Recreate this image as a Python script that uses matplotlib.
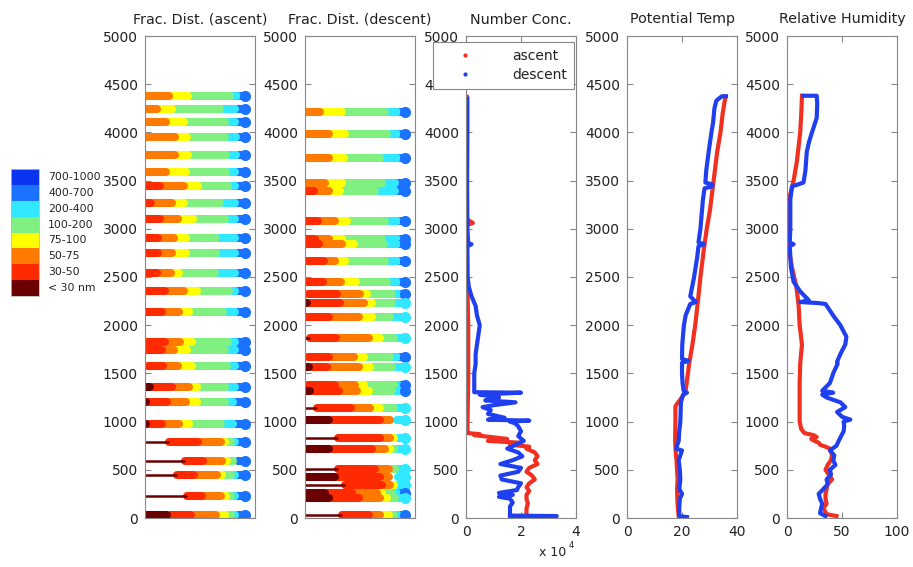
import numpy as np
import matplotlib
matplotlib.use('Agg')
import matplotlib.pyplot as plt
from matplotlib.lines import Line2D
from matplotlib.patches import Rectangle

# size bins (smallest first) and their colours
bins = ['< 30 nm', '30-50', '50-75', '75-100', '100-200', '200-400', '400-700', '700-1000']
bin_colors = ['#6a0000', '#ff2a00', '#ff7a00', '#ffff00', '#80f080', '#30e8ff', '#1a72ff', '#0a34f0']

# fractional distribution, ascent (altitude m, fraction per bin)
asc_alt = [4380, 4245, 4105, 3950, 3770, 3585, 3440, 3270, 3105, 2905, 2745, 2540, 2355,
           2135, 1830, 1740, 1580, 1360, 1200, 975, 790, 595, 450, 230, 30]
asc_frac = [
    [0, 0, .27, .19, .42, .07, .05, 0],
    [0, 0, .15, .15, .48, .15, .07, 0],
    [0, 0, .24, .18, .41, .10, .07, 0],
    [0, 0, .33, .12, .38, .11, .06, 0],
    [0, 0, .33, .13, .38, .10, .06, 0],
    [0, 0, .24, .20, .40, .09, .07, 0],
    [0, .18, .24, .14, .30, .07, .07, 0],
    [0, .09, .21, .12, .36, .15, .07, 0],
    [0, .18, .18, .15, .32, .10, .07, 0],
    [0, .16, .16, .12, .30, .19, .07, 0],
    [0, .16, .14, .14, .30, .19, .07, 0],
    [0, .15, .14, .08, .36, .20, .07, 0],
    [0, .23, .19, .13, .32, .06, .07, 0],
    [0, .20, .17, .10, .34, .12, .07, 0],
    [0, .23, .15, .12, .36, .07, .07, 0],
    [0, .20, .12, .13, .38, .10, .07, 0],
    [.03, .18, .15, .14, .35, .08, .07, 0],
    [.08, .22, .17, .08, .28, .10, .07, 0],
    [.04, .21, .19, .11, .28, .08, .09, 0],
    [.04, .16, .17, .10, .32, .12, .09, 0],
    [.24, .32, .23, .04, .06, .04, .07, 0],
    [.40, .21, .19, .05, .06, .02, .07, 0],
    [.32, .20, .23, .05, .09, .04, .07, 0],
    [.42, .18, .19, .05, .05, .04, .07, 0],
    [.25, .24, .25, .09, .06, .04, .07, 0],
]
# rows where the < 30 nm part is a full-height band (else a thin line)
asc_dr_full = [False] * 16 + [True, True, True, True, False, False, False, False, True]

# fractional distribution, descent
desc_alt = [4215, 3985, 3730, 3470, 3390, 3085, 2890, 2840, 2670, 2450, 2320, 2235, 2080,
            1865, 1665, 1570, 1380, 1315, 1140, 1015, 835, 715, 510, 430, 345, 255, 205, 30]
desc_frac = [
    [0, 0, .18, .22, .43, .12, .05, 0],
    [0, 0, .27, .16, .42, .10, .05, 0],
    [0, 0, .27, .15, .36, .17, .05, 0],
    [0, 0, .23, .17, .40, .13, .07, 0],
    [0, .12, .15, .11, .35, .20, .07, 0],
    [0, .16, .17, .12, .38, .12, .05, 0],
    [0, .13, .14, .13, .40, .15, .05, 0],
    [0, .17, .23, .12, .30, .13, .05, 0],
    [.02, .20, .11, .10, .40, .12, .05, 0],
    [0, .21, .18, .15, .31, .10, .05, 0],
    [.03, .32, .23, .07, .25, .06, .04, 0],
    [.05, .33, .24, .08, .20, .10, 0, 0],
    [0, .27, .30, .13, .18, .12, 0, 0],
    [.05, .29, .33, .11, .14, .08, 0, 0],
    [.03, .24, .25, .10, .26, .07, .05, 0],
    [.07, .18, .32, .11, .22, .10, 0, 0],
    [.03, .30, .20, .09, .30, .04, .04, 0],
    [.08, .29, .18, .12, .23, .07, .03, 0],
    [.12, .37, .19, .10, .14, .08, 0, 0],
    [.27, .51, .10, .02, .02, .08, 0, 0],
    [.33, .45, .10, .04, .01, .07, 0, 0],
    [.27, .43, .13, .05, .04, .08, 0, 0],
    [.33, .40, .14, .01, .05, .07, 0, 0],
    [.33, .45, .09, .03, .03, .07, 0, 0],
    [.40, .40, .08, .04, .01, .07, 0, 0],
    [.23, .27, .25, .05, .10, .05, .05, 0],
    [.27, .30, .21, .07, .08, .07, 0, 0],
    [.37, .30, .11, .09, .05, .04, .04, 0],
]
desc_dr_full = [True] * 12 + [True, False, True, True, True, True, False, True, False, True,
                               False, True, False, True, True, False]

# number concentration (x 10^4)
nc_asc_alt = [4370, 4200, 3800, 3400, 3100, 3060, 3040, 2800, 2500, 2300, 2000, 1700, 1400, 1100,
              920, 880, 870, 860, 840, 820, 800, 780, 760, 740, 720, 680, 640, 600, 560, 520,
              480, 440, 400, 360, 320, 280, 240, 200, 150, 100, 50, 10]
nc_asc = [0.03, 0.03, 0.02, 0.02, 0.03, 0.25, 0.03, 0.02, 0.03, 0.06, 0.08, 0.08, 0.08, 0.06,
          0.05, 0.08, 0.5, 0.3, 0.9, 1.5, 0.8, 2.0, 1.6, 2.3, 2.2, 2.5, 2.6, 2.5, 2.6, 2.3,
          2.2, 2.4, 2.5, 2.3, 2.2, 2.3, 2.2, 2.2, 2.25, 2.2, 2.2, 2.2]
nc_desc_alt = [4350, 4000, 3500, 3000, 2850, 2840, 2820, 2500, 2400, 2300, 2200, 2100, 2000, 1900,
               1800, 1700, 1600, 1500, 1400, 1320, 1305, 1300, 1280, 1250, 1220, 1200, 1170, 1150,
               1120, 1080, 1040, 1020, 1010, 1000, 980, 950, 900, 850, 800, 760, 720, 680, 640,
               600, 560, 520, 480, 440, 400, 360, 320, 290, 260, 240, 220, 200, 160, 120, 80, 40,
               25, 20, 15]
nc_desc = [0.05, 0.05, 0.04, 0.05, 0.08, 0.2, 0.05, 0.06, 0.1, 0.2, 0.35, 0.4, 0.5, 0.45,
           0.4, 0.35, 0.35, 0.3, 0.3, 0.3, 0.3, 2.0, 0.5, 1.2, 0.7, 1.8, 1.0, 0.6,
           0.9, 0.8, 1.4, 0.8, 2.3, 1.6, 1.8, 1.9, 2.0, 1.9, 2.1, 1.8, 1.5, 1.9, 2.05,
           1.7, 1.25, 2.0, 1.9, 1.25, 1.3, 2.0, 1.9, 1.85, 1.2, 1.7, 1.2, 1.6, 1.7, 1.6, 1.6, 1.6,
           1.6, 3.3, 1.6]

# potential temperature
pt_asc_alt = [4370, 4200, 4000, 3800, 3500, 3200, 3000, 2800, 2500, 2200, 2000, 1800, 1600,
              1400, 1300, 1160, 1000, 800, 650, 600, 500, 400, 300, 200, 100, 20]
pt_asc = [35.8, 34.8, 34.0, 32.8, 31.5, 30.2, 29.0, 28.0, 26.7, 25.6, 24.8, 23.8, 22.6,
          21.7, 21.2, 17.6, 17.6, 17.5, 17.8, 18.0, 18.2, 18.4, 18.2, 18.3, 18.5, 18.8]
pt_desc_alt = [4375, 4375, 4330, 4250, 4100, 4000, 3800, 3600, 3480, 3460, 3440, 3420, 3300,
               3100, 3000, 2860, 2840, 2820, 2700, 2500, 2300, 2240, 2220, 2100, 2000, 1800,
               1650, 1630, 1610, 1500, 1400, 1320, 1300, 1280, 1200, 1000, 900, 800, 720, 710,
               700, 600, 500, 400, 300, 250, 200, 100, 20, 10]
pt_desc = [36.0, 34.5, 32.5, 31.8, 31.3, 30.7, 29.7, 28.8, 28.5, 31.0, 31.0, 28.2, 27.6,
           27.0, 26.7, 26.0, 28.0, 26.0, 25.5, 24.4, 23.0, 25.0, 23.0, 21.3, 20.7, 20.1,
           20.0, 22.4, 20.0, 20.0, 20.2, 20.6, 21.8, 20.4, 19.6, 19.4, 19.0, 18.8, 17.8, 19.0,
           20.0, 18.8, 19.2, 19.4, 19.0, 20.0, 19.2, 19.0, 19.0, 21.8]

# relative humidity
rh_asc_alt = [4380, 4200, 4000, 3850, 3700, 3500, 3400, 3300, 3150, 3000, 2800, 2600, 2400,
              2200, 2000, 1800, 1600, 1400, 1200, 1000, 920, 880, 860, 840, 820, 800, 780, 760,
              740, 720, 660, 600, 550, 500, 450, 400, 350, 300, 250, 200, 150, 100, 40, 20]
rh_asc = [13.6, 13.0, 12.0, 10.5, 9.0, 6.0, 4.0, 1.5, 0.8, 0.6, 1.5, 4.5, 8.5,
          10.6, 11.5, 13.6, 12.0, 11.5, 11.5, 11.5, 13.0, 16.0, 24.0, 27.0, 22.0, 25.0, 29.0, 30.0,
          35.0, 39.0, 41.0, 40.0, 37.0, 35.0, 38.0, 41.0, 37.0, 36.0, 35.0, 35.0, 36.0, 33.0, 36.0, 45.0]
rh_desc_alt = [4380, 4380, 4300, 4150, 4000, 3900, 3800, 3600, 3480, 3460, 3440, 3300, 3000,
               2860, 2840, 2820, 2600, 2450, 2350, 2260, 2240, 2230, 2220, 2100, 2000, 1880,
               1800, 1700, 1620, 1600, 1500, 1400, 1320, 1300, 1280, 1250, 1200, 1150, 1100,
               1050, 1020, 1000, 950, 900, 800, 750, 700, 650, 600, 550, 500, 450, 400, 350,
               300, 250, 200, 150, 100, 50, 20]
rh_desc = [15.0, 27.0, 27.5, 27.0, 22.7, 20.0, 18.0, 16.7, 15.0, 10.0, 4.5, 3.0, 3.0,
           2.5, 6.0, 2.5, 3.6, 6.0, 12.0, 19.7, 12.0, 28.0, 35.0, 42.0, 48.5, 54.0,
           53.0, 48.5, 45.5, 46.0, 42.0, 39.0, 32.0, 42.0, 32.0, 36.0, 48.5, 53.0, 45.5,
           50.0, 57.6, 51.5, 52.0, 51.5, 47.0, 45.0, 39.0, 43.0, 42.0, 44.0, 39.0, 40.0, 36.0, 37.0,
           33.0, 28.8, 30.0, 32.0, 31.0, 30.0, 35.0]

RED = '#f03020'
BLUE = '#2040f0'
TXT = '#222222'
GRID = '#888888'

fig = plt.figure(figsize=(9.13, 5.67), dpi=100)

lefts = [145, 305, 466, 627, 787]
W, H = 913.0, 567.0
axes = [fig.add_axes([l / W, 1 - 518 / H, 110 / W, 482 / H]) for l in lefts]


def style(ax, title):
    ax.set_ylim(0, 5000)
    ax.set_yticks(range(0, 5001, 500))
    for s in ax.spines.values():
        s.set_color(GRID)
        s.set_linewidth(0.8)
    ax.tick_params(direction='in', length=4, color=GRID, labelcolor=TXT, labelsize=10,
                   left=True, right=True, top=True, bottom=True, pad=5)
    ax.set_title(title, fontsize=10.3, color=TXT, pad=9)


def frac_panel(ax, alts, fracs, dr_full):
    cap = 0.035  # round cap reach, in data units
    for alt, fr, full in zip(alts, fracs, dr_full):
        fr = np.array(fr, dtype=float)
        fr = fr / fr.sum()
        edges = np.concatenate([[0], np.cumsum(fr)])
        # right-most bins first so each colour ends in a rounded tip over the next
        for i in range(len(fr) - 1, -1, -1):
            if fr[i] <= 0:
                continue
            lw = 5.8 if (i > 0 or full) else 1.8
            x1 = max(edges[i + 1] - (cap if lw > 3 else 0.012), edges[i])
            ax.plot([edges[i], x1], [alt, alt], color=bin_colors[i], lw=lw,
                    solid_capstyle='round')
        last = max(i for i in range(len(fr)) if fr[i] > 0)
        ax.plot(1.0, alt, 'o', ms=8, color=bin_colors[last], mec='none')
    ax.set_xlim(0, 1.1)
    ax.set_xticks([])


frac_panel(axes[0], asc_alt, asc_frac, asc_dr_full)
style(axes[0], 'Frac. Dist. (ascent)')
frac_panel(axes[1], desc_alt, desc_frac, desc_dr_full)
style(axes[1], 'Frac. Dist. (descent)')

# number concentration
ax = axes[2]
ax.plot(nc_asc, nc_asc_alt, color=RED, lw=3.0)
ax.plot(nc_desc, nc_desc_alt, color=BLUE, lw=3.0)
ax.set_xlim(0, 4)
ax.set_xticks([0, 2, 4])
style(ax, 'Number Conc.')
ax.text(0.66, -0.072, 'x 10', transform=ax.transAxes, fontsize=9, color=TXT, va='center')
ax.text(0.93, -0.058, '4', transform=ax.transAxes, fontsize=6, color=TXT, va='center')
handles = [Line2D([], [], marker='.', ls='none', color=RED, ms=4),
           Line2D([], [], marker='.', ls='none', color=BLUE, ms=4)]
leg = ax.legend(handles, ['ascent', 'descent'], loc='upper left', bbox_to_anchor=(-0.3, 0.988),
                fontsize=10, frameon=True, fancybox=False, framealpha=1, edgecolor=GRID,
                handlelength=3.6, handletextpad=1.6, borderpad=0.5, labelspacing=0.35,
                borderaxespad=0)
leg.get_frame().set_linewidth(0.8)
for t in leg.get_texts():
    t.set_color(TXT)

# potential temperature
ax = axes[3]
ax.plot(pt_asc, pt_asc_alt, color=RED, lw=3.0)
ax.plot(pt_desc, pt_desc_alt, color=BLUE, lw=3.0)
ax.set_xlim(0, 40)
ax.set_xticks([0, 20, 40])
style(ax, 'Potential Temp')

# relative humidity
ax = axes[4]
ax.plot(rh_asc, rh_asc_alt, color=RED, lw=3.0)
ax.plot(rh_desc, rh_desc_alt, color=BLUE, lw=3.0)
ax.set_xlim(0, 100)
ax.set_xticks([0, 50, 100])
style(ax, 'Relative Humidity')

# colour key on the left
cax = fig.add_axes([11 / W, 1 - 296 / H, 28 / W, 127 / H])
for k, c in enumerate(bin_colors):
    cax.add_patch(Rectangle((0, k), 1, 1, color=c, lw=0))
    cax.text(1.32, k + 0.5, bins[k], fontsize=7.8, color=TXT, va='center', ha='left')
cax.set_xlim(0, 1)
cax.set_ylim(0, 8)
cax.set_xticks([])
cax.set_yticks([])
for s in cax.spines.values():
    s.set_color('#bbbbbb')
    s.set_linewidth(0.6)

fig.savefig('out.png', dpi=100)
